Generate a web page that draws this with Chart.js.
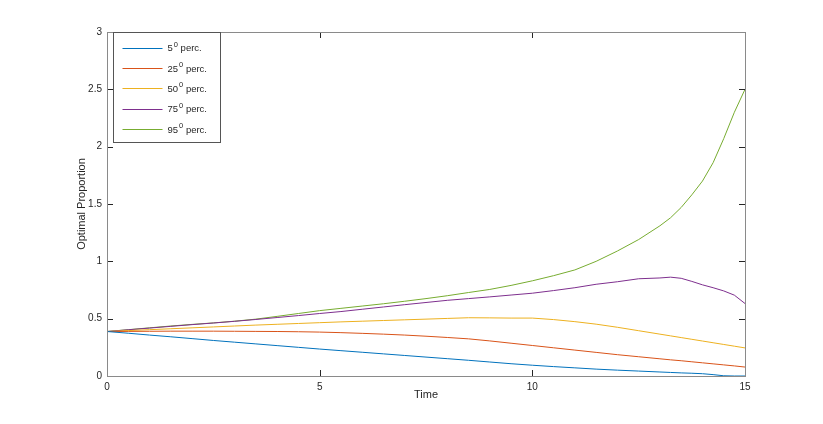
<!DOCTYPE html>
<html>
<head>
<meta charset="utf-8">
<script src="https://cdn.jsdelivr.net/npm/chart.js@4.4.1/dist/chart.umd.min.js"></script>
<style>
  html, body { margin: 0; padding: 0; background: #fff; }
  canvas { display: block; }
</style>
</head>
<body>
<canvas id="chart" width="823" height="424"></canvas>
<script>
// time grid (coarser early, finer near the end where the curves move)
const times = [0, 0.5, 1, 1.5, 2, 2.5, 3, 3.5, 4, 4.5, 5, 5.5, 6, 6.5, 7, 7.5, 8, 8.5, 9, 9.5,
  10, 10.5, 11, 11.5, 12, 12.5, 13, 13.25, 13.5, 13.75, 14, 14.25, 14.5, 14.75, 15];

const p5 = [0.388, 0.373, 0.357, 0.342, 0.326, 0.310, 0.295, 0.280, 0.265, 0.250, 0.235, 0.221, 0.207, 0.193, 0.179, 0.165, 0.151, 0.137, 0.122, 0.107,
  0.094, 0.082, 0.071, 0.060, 0.051, 0.043, 0.035, 0.031, 0.027, 0.024, 0.020, 0.012, 0.002, 0, 0];
const p25 = [0.388, 0.389, 0.390, 0.391, 0.391, 0.391, 0.390, 0.389, 0.388, 0.386, 0.383, 0.378, 0.372, 0.365, 0.357, 0.347, 0.336, 0.324, 0.306, 0.286,
  0.266, 0.246, 0.226, 0.206, 0.186, 0.168, 0.150, 0.141, 0.133, 0.124, 0.115, 0.106, 0.097, 0.088, 0.078];
const p50 = [0.388, 0.396, 0.404, 0.412, 0.420, 0.428, 0.436, 0.444, 0.451, 0.458, 0.465, 0.472, 0.478, 0.484, 0.490, 0.496, 0.502, 0.508, 0.507, 0.505,
  0.505, 0.492, 0.474, 0.452, 0.425, 0.395, 0.365, 0.350, 0.335, 0.320, 0.305, 0.290, 0.275, 0.260, 0.245];
const p75 = [0.388, 0.403, 0.418, 0.433, 0.448, 0.462, 0.477, 0.493, 0.510, 0.527, 0.545, 0.562, 0.582, 0.602, 0.622, 0.641, 0.660, 0.675, 0.690, 0.706,
  0.722, 0.745, 0.770, 0.800, 0.822, 0.848, 0.855, 0.862, 0.852, 0.825, 0.795, 0.770, 0.742, 0.705, 0.632];
const p95 = [0.388, 0.404, 0.420, 0.436, 0.450, 0.463, 0.478, 0.496, 0.520, 0.545, 0.570, 0.590, 0.610, 0.630, 0.652, 0.675, 0.700, 0.728, 0.755, 0.790,
  0.830, 0.875, 0.925, 1.00, 1.09, 1.19, 1.31, 1.38, 1.47, 1.58, 1.70, 1.86, 2.07, 2.30, 2.50];

const percLabels = ['5', '25', '50', '75', '95'];
const colors = ['#0072BD', '#D95319', '#EDB120', '#7E2F8E', '#77AC30'];
const xTicks = [0, 5, 10, 15];
const yTicks = [0, 0.5, 1, 1.5, 2, 2.5, 3];

const series = [p5, p25, p50, p75, p95];
const FONT = '"Liberation Sans", Arial, Helvetica, sans-serif';

// box + inward tick marks, MATLAB style
const boxPlugin = {
  id: 'box',
  afterDraw(chart) {
    const ctx = chart.ctx;
    const { left, right, top, bottom } = chart.chartArea;
    const xs = chart.scales.x, ys = chart.scales.y;
    ctx.save();
    ctx.lineWidth = 1;
    ctx.strokeStyle = '#262626';
    ctx.beginPath();
    xTicks.forEach(v => {
      const x = Math.round(xs.getPixelForValue(v)) + 0.5;
      ctx.moveTo(x, bottom); ctx.lineTo(x, bottom - 6);
      ctx.moveTo(x, top); ctx.lineTo(x, top + 6);
    });
    yTicks.forEach(v => {
      const y = Math.round(ys.getPixelForValue(v)) + 0.5;
      ctx.moveTo(left, y); ctx.lineTo(left + 6, y);
      ctx.moveTo(right, y); ctx.lineTo(right - 6, y);
    });
    ctx.stroke();
    ctx.strokeStyle = '#8a8a8a';
    ctx.strokeRect(Math.round(left) + 0.5, Math.round(top) + 0.5, Math.round(right - left), Math.round(bottom - top));
    ctx.restore();
  }
};

// legend inside the axes, top-left
const legendPlugin = {
  id: 'insideLegend',
  afterDraw(chart) {
    const ctx = chart.ctx;
    const { left, top } = chart.chartArea;
    const bx = Math.round(left) + 6.5, by = Math.round(top) + 0.5;
    const bw = 107, bh = 110;
    ctx.save();
    ctx.fillStyle = '#fff';
    ctx.fillRect(bx, by, bw, bh);
    ctx.strokeStyle = '#555';
    ctx.lineWidth = 1;
    ctx.strokeRect(bx, by, bw, bh);
    chart.data.datasets.forEach((ds, i) => {
      const y = by + 15 + i * 20.4;
      ctx.strokeStyle = ds.borderColor;
      ctx.beginPath();
      ctx.moveTo(bx + 9, Math.round(y) + 0.5);
      ctx.lineTo(bx + 49, Math.round(y) + 0.5);
      ctx.stroke();
      ctx.fillStyle = '#262626';
      ctx.textBaseline = 'middle';
      ctx.textAlign = 'left';
      let tx = bx + 54;
      ctx.font = '9.5px ' + FONT;
      ctx.fillText(percLabels[i], tx, y + 1);
      tx += ctx.measureText(percLabels[i]).width + 1;
      ctx.font = '7.5px ' + FONT;
      ctx.fillText('0', tx, y - 3);
      tx += ctx.measureText('0').width;
      ctx.font = '9.5px ' + FONT;
      ctx.fillText(' perc.', tx, y + 1);
    });
    ctx.restore();
  }
};

new Chart(document.getElementById('chart'), {
  type: 'line',
  data: {
    datasets: series.map((vals, i) => ({
      label: percLabels[i] + '\u2070 perc.',
      data: times.map((t, j) => ({ x: t, y: vals[j] })),
      borderColor: colors[i],
      backgroundColor: colors[i],
      borderWidth: 1,
      pointRadius: 0,
      tension: 0,
      fill: false
    }))
  },
  options: {
    responsive: false,
    animation: false,
    layout: { padding: { left: 71, right: 78, top: 32, bottom: 18 } },
    plugins: {
      legend: { display: false },
      tooltip: { enabled: false }
    },
    scales: {
      x: {
        type: 'linear',
        min: 0, max: 15,
        afterFit(scale) { scale.height = 30; },
        afterBuildTicks(scale) { scale.ticks = xTicks.map(v => ({ value: v })); },
        grid: { display: false, drawTicks: false },
        border: { display: false },
        ticks: { padding: 5, color: '#262626', font: { family: FONT, size: 10 }, maxRotation: 0, callback: v => String(v) },
        title: { display: true, text: 'Time', color: '#262626', font: { family: FONT, size: 11 }, padding: { top: 0, bottom: 4 } }
      },
      y: {
        min: 0, max: 3,
        afterFit(scale) { scale.width = 36; },
        afterBuildTicks(scale) { scale.ticks = yTicks.map(v => ({ value: v })); },
        grid: { display: false, drawTicks: false },
        border: { display: false },
        ticks: { padding: 5, color: '#262626', font: { family: FONT, size: 10 }, callback: v => String(v) },
        title: { display: true, text: 'Optimal Proportion', color: '#262626', font: { family: FONT, size: 11 }, padding: { top: 4, bottom: 0 } }
      }
    }
  },
  plugins: [boxPlugin, legendPlugin]
});
</script>
</body>
</html>
